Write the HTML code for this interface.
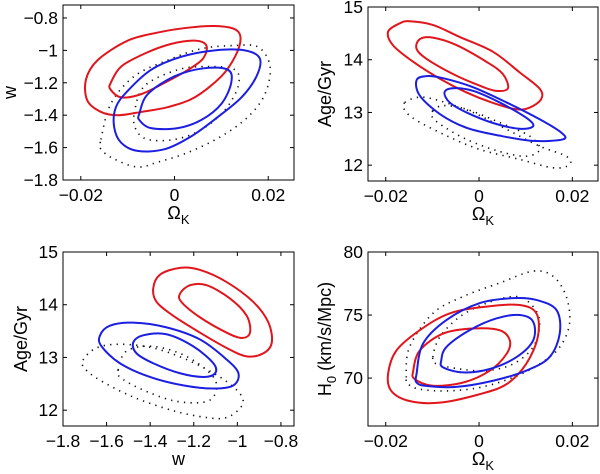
<!DOCTYPE html>
<html><head><meta charset="utf-8"><style>
html,body{margin:0;padding:0;background:#fff;}
svg{display:block;font-family:"Liberation Sans",Arial,sans-serif;}
</style></head><body>
<svg id="fig" width="600" height="474" viewBox="0 0 600 474" xmlns="http://www.w3.org/2000/svg"></svg>
<script>
// ---------- data ----------
// Panel 1: Omega_K vs w
const p1RedOuter=[[-0.0189,-1.18],[-0.0164,-1.06],[-0.0100,-0.94],[-0.0036,-0.89],[0.0029,-0.86],[0.0086,-0.85],[0.0129,-0.87],[0.0141,-0.93],[0.0129,-1.04],[0.0100,-1.16],[0.0043,-1.29],[-0.0014,-1.35],[-0.0071,-1.38],[-0.0121,-1.40],[-0.0157,-1.38],[-0.0186,-1.31]];
const p1RedInner=[[-0.0136,-1.20],[-0.0114,-1.10],[-0.0064,-1.02],[-0.0007,-0.96],[0.0043,-0.94],[0.0068,-0.97],[0.0061,-1.05],[0.0029,-1.12],[-0.0021,-1.20],[-0.0071,-1.27],[-0.0114,-1.29],[-0.0137,-1.24]];
const p1BlueOuter=[[-0.0125,-1.35],[-0.0100,-1.25],[-0.0050,-1.12],[0.0014,-1.04],[0.0086,-1.00],[0.0150,-1.00],[0.0182,-1.05],[0.0175,-1.16],[0.0143,-1.29],[0.0093,-1.41],[0.0036,-1.53],[-0.0021,-1.61],[-0.0079,-1.62],[-0.0114,-1.57],[-0.0129,-1.47]];
const p1BlueInner=[[-0.0075,-1.39],[-0.0057,-1.27],[0,-1.16],[0.0064,-1.11],[0.0114,-1.12],[0.0121,-1.20],[0.0100,-1.33],[0.0057,-1.43],[0.0007,-1.48],[-0.0050,-1.48],[-0.0075,-1.43]];
const p1BlackOuter=[[-0.0157,-1.55],[-0.0136,-1.33],[-0.0086,-1.16],[-0.0014,-1.06],[0.0057,-0.99],[0.0129,-0.97],[0.0179,-0.98],[0.0204,-1.10],[0.0193,-1.27],[0.0157,-1.41],[0.0100,-1.53],[0.0029,-1.63],[-0.0036,-1.69],[-0.0079,-1.72],[-0.0129,-1.67],[-0.0157,-1.61]];
const p1BlackInner=[[-0.0086,-1.39],[-0.0064,-1.22],[0.0007,-1.12],[0.0071,-1.10],[0.0129,-1.12],[0.0136,-1.22],[0.0107,-1.37],[0.0057,-1.49],[0,-1.55],[-0.0057,-1.55],[-0.0082,-1.49]];
// Panel 2: Omega_K vs Age
const p2RedOuter=[[-0.0195,14.53],[-0.0170,14.69],[-0.0149,14.73],[-0.0099,14.66],[-0.0041,14.43],[0.0030,14.15],[0.0087,13.76],[0.0130,13.45],[0.0133,13.25],[0.0108,13.09],[0.0080,13.06],[0.0030,13.18],[-0.0027,13.38],[-0.0084,13.64],[-0.0141,13.96],[-0.0184,14.27]];
const p2RedInner=[[-0.0134,14.21],[-0.0127,14.39],[-0.0099,14.42],[-0.0049,14.28],[0.0016,13.96],[0.0051,13.73],[0.0062,13.46],[0.0037,13.41],[0.0001,13.51],[-0.0056,13.73],[-0.0113,14.02]];
const p2BlueOuter=[[-0.0134,13.61],[-0.0113,13.69],[-0.0077,13.65],[-0.0013,13.48],[0.0059,13.19],[0.0130,12.87],[0.0176,12.62],[0.0180,12.49],[0.0116,12.46],[0.0044,12.56],[-0.0027,12.71],[-0.0084,12.97],[-0.0127,13.32]];
const p2BlueInner=[[-0.0074,13.38],[-0.0056,13.46],[-0.0013,13.41],[0.0044,13.19],[0.0101,12.90],[0.0116,12.74],[0.0087,12.69],[0.0030,12.80],[-0.0027,13.00],[-0.0063,13.19]];
const p2BlackOuter=[[-0.0159,13.19],[-0.0127,13.29],[-0.0084,13.22],[-0.0013,13.00],[0.0059,12.68],[0.0130,12.36],[0.0187,12.17],[0.0194,12.01],[0.0159,11.95],[0.0087,12.11],[0.0001,12.30],[-0.0070,12.56],[-0.0134,12.85],[-0.0159,13.04]];
const p2BlackInner=[[-0.0099,13.03],[-0.0077,13.13],[-0.0027,13.06],[0.0044,12.81],[0.0109,12.55],[0.0130,12.30],[0.0101,12.17],[0.0044,12.26],[-0.0027,12.49],[-0.0084,12.78],[-0.0102,12.94]];
// Panel 3: w vs Age
const p3RedOuter=[[-1.386,14.31],[-1.355,14.57],[-1.263,14.70],[-1.171,14.66],[-1.049,14.43],[-0.926,14.05],[-0.857,13.66],[-0.842,13.28],[-0.880,13.08],[-0.957,13.02],[-1.049,13.18],[-1.171,13.47],[-1.294,13.79],[-1.370,14.05]];
const p3RedInner=[[-1.263,14.21],[-1.217,14.37],[-1.141,14.37],[-1.034,14.12],[-0.957,13.79],[-0.942,13.47],[-0.980,13.37],[-1.049,13.47],[-1.171,13.76],[-1.256,14.05]];
const p3BlueOuter=[[-1.631,13.41],[-1.586,13.60],[-1.478,13.66],[-1.325,13.57],[-1.171,13.34],[-1.049,12.96],[-0.995,12.70],[-1.018,12.47],[-1.110,12.41],[-1.248,12.47],[-1.401,12.63],[-1.539,12.89],[-1.623,13.21]];
const p3BlueInner=[[-1.478,13.28],[-1.432,13.42],[-1.325,13.44],[-1.202,13.21],[-1.110,12.89],[-1.102,12.70],[-1.156,12.63],[-1.263,12.70],[-1.386,12.89],[-1.463,13.08]];
const p3BlackOuter=[[-1.708,12.95],[-1.647,13.18],[-1.539,13.25],[-1.386,13.18],[-1.233,12.96],[-1.080,12.63],[-0.987,12.31],[-0.980,12.08],[-1.049,11.86],[-1.141,11.86],[-1.294,11.99],[-1.478,12.25],[-1.631,12.57],[-1.700,12.79]];
const p3BlackInner=[[-1.547,12.76],[-1.509,13.12],[-1.386,13.21],[-1.233,13.02],[-1.110,12.63],[-1.102,12.31],[-1.156,12.15],[-1.294,12.18],[-1.447,12.41],[-1.539,12.63]];
// Panel 4: Omega_K vs H0
const p4RedOuter=[[-0.0195,70.32],[-0.0177,72.19],[-0.0127,73.80],[-0.0063,75.13],[0.0016,75.67],[0.0087,75.80],[0.0123,75.13],[0.0126,73.26],[0.0101,71.12],[0.0059,69.52],[0.0001,68.72],[-0.0084,68.05],[-0.0149,68.18],[-0.0188,68.98]];
const p4RedInner=[[-0.0141,70.59],[-0.0127,72.19],[-0.0077,73.53],[-0.0013,73.93],[0.0044,73.80],[0.0066,72.99],[0.0059,71.92],[0.0023,70.59],[-0.0034,69.65],[-0.0099,69.39],[-0.0138,69.92]];
const p4BlueOuter=[[-0.0134,70.32],[-0.0120,72.73],[-0.0070,74.60],[0.0001,75.94],[0.0073,76.34],[0.0123,76.20],[0.0166,75.40],[0.0173,73.53],[0.0151,71.66],[0.0101,70.59],[0.0030,69.79],[-0.0049,69.30],[-0.0113,69.38],[-0.0134,69.65]];
const p4BlueInner=[[-0.0081,71.39],[-0.0070,72.46],[-0.0020,73.80],[0.0037,74.73],[0.0087,75.00],[0.0116,74.47],[0.0116,72.99],[0.0080,71.66],[0.0023,70.72],[-0.0034,70.45],[-0.0077,70.85]];
const p4BlackOuter=[[-0.0156,70.05],[-0.0149,72.46],[-0.0099,75.13],[-0.0034,76.47],[0.0044,77.54],[0.0116,78.48],[0.0159,78.07],[0.0187,76.47],[0.0194,74.33],[0.0173,72.46],[0.0130,71.12],[0.0073,70.05],[0.0001,69.25],[-0.0070,68.98],[-0.0127,69.12],[-0.0152,69.52]];
const p4BlackInner=[[-0.0099,71.66],[-0.0084,73.26],[-0.0041,74.87],[0.0016,75.94],[0.0080,76.47],[0.0116,75.67],[0.0130,74.33],[0.0116,72.46],[0.0073,71.12],[0.0016,70.59],[-0.0041,70.72],[-0.0091,71.12]];
// tick values / labels
const okTicks=[-0.02,0,0.02];
const okTickLabels=["\u22120.02","0","0.02"];
const wTicksY=[-1.8,-1.6,-1.4,-1.2,-1,-0.8];
const wTickLabelsY=["\u22121.8","\u22121.6","\u22121.4","\u22121.2","\u22121","\u22120.8"];
const ageTicks=[12,13,14,15];
const ageTickLabels=["12","13","14","15"];
const wTicksX=[-1.8,-1.6,-1.4,-1.2,-1,-0.8];
const wTickLabelsX=["\u22121.8","\u22121.6","\u22121.4","\u22121.2","\u22121","\u22120.8"];
const h0Ticks=[70,75,80];
const h0TickLabels=["70","75","80"];

// ---------- drawing ----------
const NS="http://www.w3.org/2000/svg";
const svg=document.getElementById('fig');
function mk(tag,parent){const e=document.createElementNS(NS,tag);parent.appendChild(e);return e;}
function smooth(pts){
  const n=pts.length;let d="M"+pts[0][0].toFixed(2)+","+pts[0][1].toFixed(2);
  for(let i=0;i<n;i++){
    const p0=pts[(i-1+n)%n],p1=pts[i],p2=pts[(i+1)%n],p3=pts[(i+2)%n];
    const c1=[p1[0]+(p2[0]-p0[0])/6,p1[1]+(p2[1]-p0[1])/6];
    const c2=[p2[0]-(p3[0]-p1[0])/6,p2[1]-(p3[1]-p1[1])/6];
    d+="C"+c1[0].toFixed(2)+","+c1[1].toFixed(2)+" "+c2[0].toFixed(2)+","+c2[1].toFixed(2)+" "+p2[0].toFixed(2)+","+p2[1].toFixed(2);
  }
  return d+"Z";
}
function panel(cfg){
  const g=mk('g',svg);
  
  
  const L=cfg.box[0],R=cfg.box[1],T=cfg.box[2],B=cfg.box[3];
  const sx=v=>L+(v-cfg.xd[0])/(cfg.xd[1]-cfg.xd[0])*(R-L);
  const sy=v=>B-(v-cfg.yd[0])/(cfg.yd[1]-cfg.yd[0])*(B-T);
  const clipId='clip-'+cfg.name;
  const cp=mk('clipPath',g);cp.setAttribute('id',clipId);
  const cr=mk('rect',cp);cr.setAttribute('x',L);cr.setAttribute('y',T);cr.setAttribute('width',R-L);cr.setAttribute('height',B-T);
  const cg=mk('g',g);cg.setAttribute('clip-path','url(#'+clipId+')');
  cfg.series.forEach(s=>{
    const p=mk('path',cg);
    
    
    p.setAttribute('d',smooth(s.data.map(q=>[sx(q[0]),sy(q[1])])));
    p.setAttribute('fill','none');
    if(s.color==='k'){p.setAttribute('stroke','#111');p.setAttribute('stroke-width','1.6');p.setAttribute('stroke-dasharray','1.3 5.2');}
    else{p.setAttribute('stroke',s.color);p.setAttribute('stroke-width','2');p.setAttribute('stroke-linejoin','round');}
  });
  const frame=mk('rect',g);
  
  
  frame.setAttribute('x',L);frame.setAttribute('y',T);frame.setAttribute('width',R-L);frame.setAttribute('height',B-T);
  frame.setAttribute('fill','none');frame.setAttribute('stroke','#000');frame.setAttribute('stroke-width','1');
  cfg.xt.forEach((v,i)=>{
    const x=sx(v);
    [[B,B-4],[T,T+4]].forEach(a=>{const l=mk('line',g);l.setAttribute('x1',x);l.setAttribute('x2',x);l.setAttribute('y1',a[0]);l.setAttribute('y2',a[1]);l.setAttribute('stroke','#000');});
    const t=mk('text',g);
    
    
    t.setAttribute('x',x);t.setAttribute('y',B+21);t.setAttribute('text-anchor','middle');t.setAttribute('font-size','17.5');
    t.textContent=cfg.xl[i];
  });
  cfg.yt.forEach((v,i)=>{
    const y=sy(v);
    [[L,L+4],[R,R-4]].forEach(a=>{const l=mk('line',g);l.setAttribute('y1',y);l.setAttribute('y2',y);l.setAttribute('x1',a[0]);l.setAttribute('x2',a[1]);l.setAttribute('stroke','#000');});
    const t=mk('text',g);
    
    
    t.setAttribute('x',L-5);t.setAttribute('y',y+6);t.setAttribute('text-anchor','end');t.setAttribute('font-size','17.5');
    t.textContent=cfg.yl[i];
  });
  const xt=mk('text',g);
  
  
  xt.setAttribute('x',(L+R)/2);xt.setAttribute('y',B+39);xt.setAttribute('text-anchor','middle');xt.setAttribute('font-size','18');
  if(cfg.xtitle==='ok'){xt.innerHTML='\u03A9<tspan font-size="13" dy="5">K</tspan>';}
  else xt.textContent=cfg.xtitle;
  const yt=mk('text',g);
  
  
  const cx=cfg.ytx,cy=(T+B)/2;
  yt.setAttribute('transform','translate('+cx+','+cy+') rotate(-90)');
  yt.setAttribute('text-anchor','middle');yt.setAttribute('font-size','18');
  if(cfg.ytitle==='h0'){yt.innerHTML='H<tspan font-size="13" dy="5">0</tspan><tspan dy="-5"> (km/s/Mpc)</tspan>';}
  else yt.textContent=cfg.ytitle;
}
const okDom=[-0.0238,0.0255];
panel({name:'panel-ok-w',box:[63,294,5,180],xd:okDom,yd:[-1.8,-0.72],xt:okTicks,xl:okTickLabels,yt:wTicksY,yl:wTickLabelsY,xtitle:'ok',ytitle:'w',ytx:16,
  series:[{name:'black-outer',data:p1BlackOuter,color:'k'},{name:'black-inner',data:p1BlackInner,color:'k'},{name:'red-outer',data:p1RedOuter,color:'#e0161c'},{name:'red-inner',data:p1RedInner,color:'#e0161c'},{name:'blue-outer',data:p1BlueOuter,color:'#1c1ee0'},{name:'blue-inner',data:p1BlueInner,color:'#1c1ee0'}]});
panel({name:'panel-ok-age',box:[368,598,7,181],xd:okDom,yd:[11.7,15.0],xt:okTicks,xl:okTickLabels,yt:ageTicks,yl:ageTickLabels,xtitle:'ok',ytitle:'Age/Gyr',ytx:331,
  series:[{name:'black-outer',data:p2BlackOuter,color:'k'},{name:'black-inner',data:p2BlackInner,color:'k'},{name:'red-outer',data:p2RedOuter,color:'#e0161c'},{name:'red-inner',data:p2RedInner,color:'#e0161c'},{name:'blue-outer',data:p2BlueOuter,color:'#1c1ee0'},{name:'blue-inner',data:p2BlueInner,color:'#1c1ee0'}]});
panel({name:'panel-w-age',box:[63,294,252,426],xd:[-1.8,-0.74],yd:[11.7,15.0],xt:wTicksX,xl:wTickLabelsX,yt:ageTicks,yl:ageTickLabels,xtitle:'w',ytitle:'Age/Gyr',ytx:27,
  series:[{name:'black-outer',data:p3BlackOuter,color:'k'},{name:'black-inner',data:p3BlackInner,color:'k'},{name:'red-outer',data:p3RedOuter,color:'#e0161c'},{name:'red-inner',data:p3RedInner,color:'#e0161c'},{name:'blue-outer',data:p3BlueOuter,color:'#1c1ee0'},{name:'blue-inner',data:p3BlueInner,color:'#1c1ee0'}]});
panel({name:'panel-ok-h0',box:[368,598,252,426],xd:okDom,yd:[66.2,80],xt:okTicks,xl:okTickLabels,yt:h0Ticks,yl:h0TickLabels,xtitle:'ok',ytitle:'h0',ytx:331,
  series:[{name:'black-outer',data:p4BlackOuter,color:'k'},{name:'black-inner',data:p4BlackInner,color:'k'},{name:'red-outer',data:p4RedOuter,color:'#e0161c'},{name:'red-inner',data:p4RedInner,color:'#e0161c'},{name:'blue-outer',data:p4BlueOuter,color:'#1c1ee0'},{name:'blue-inner',data:p4BlueInner,color:'#1c1ee0'}]});
</script>
</body></html>
